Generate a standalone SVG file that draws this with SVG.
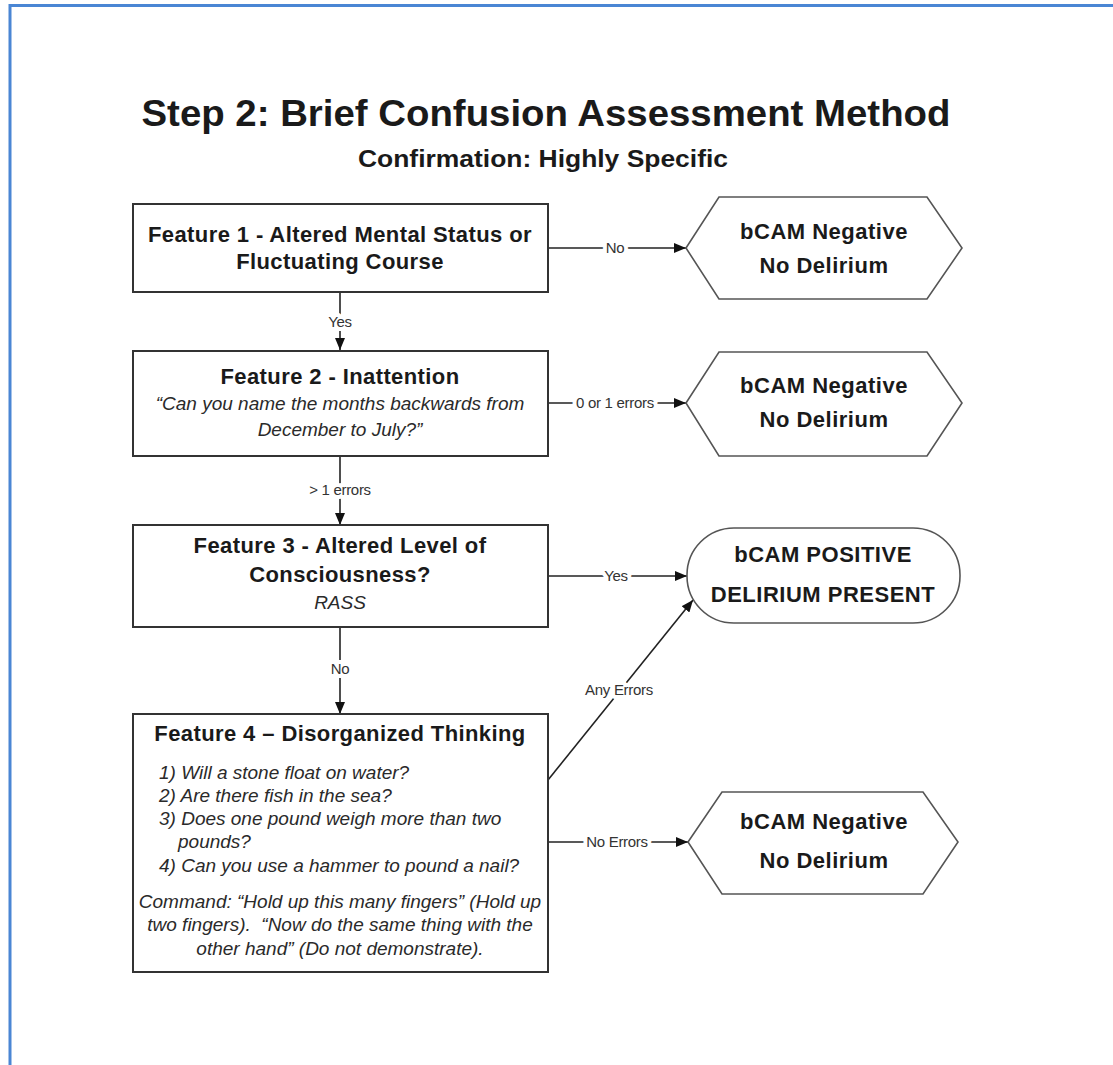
<svg xmlns="http://www.w3.org/2000/svg" width="1113" height="1065" viewBox="0 0 1113 1065">
<defs>
<style>
.frame{fill:none;stroke:#4a86d4;stroke-width:3}
.box{fill:#fff;stroke:#333;stroke-width:2}
.term{fill:#fff;stroke:#555;stroke-width:1.6}
.t{font-family:"Liberation Sans",Arial,sans-serif;fill:#1a1a1a;text-anchor:middle}
.b{font-weight:bold;font-size:22px;letter-spacing:0.4px}
.bo{font-weight:bold;font-size:22px;letter-spacing:0.5px}
.i{font-style:italic;font-size:19px;fill:#2a2a2a}
.il{font-family:"Liberation Sans",Arial,sans-serif;font-style:italic;font-size:19px;fill:#2a2a2a}
.ln{fill:none;stroke:#222;stroke-width:1.6}
.lab{font-family:"Liberation Sans",Arial,sans-serif;font-size:15px;fill:#333;text-anchor:middle;stroke:#fff;stroke-width:8px;stroke-linejoin:round;paint-order:stroke;letter-spacing:-0.3px}
</style>
<marker id="ah" viewBox="0 0 12 10" refX="12" refY="5" markerWidth="12" markerHeight="10" markerUnits="userSpaceOnUse" orient="auto">
<path d="M0,0 L12,5 L0,10 Z" fill="#111"/>
</marker>
</defs>
<rect x="0" y="0" width="1113" height="1065" fill="#fff"/>
<path class="frame" d="M10,1065 V5.5 H1113"/>

<g id="title">
<text class="t" x="546" y="126" font-size="37" font-weight="bold" textLength="809" lengthAdjust="spacingAndGlyphs">Step 2: Brief Confusion Assessment Method</text>
<text class="t" x="543" y="167" font-size="24" font-weight="bold" textLength="370" lengthAdjust="spacingAndGlyphs">Confirmation: Highly Specific</text>
</g>

<g id="connectors">
<line class="ln" x1="548" y1="248" x2="686" y2="248" marker-end="url(#ah)"/>
<text class="lab" x="615" y="253">No</text>
<line class="ln" x1="340" y1="292" x2="340" y2="350" marker-end="url(#ah)"/>
<text class="lab" x="340" y="327">Yes</text>
<line class="ln" x1="548" y1="403" x2="686" y2="403" marker-end="url(#ah)"/>
<text class="lab" x="615" y="408">0 or 1 errors</text>
<line class="ln" x1="340" y1="456" x2="340" y2="525" marker-end="url(#ah)"/>
<text class="lab" x="340" y="495">&gt; 1 errors</text>
<line class="ln" x1="548" y1="576" x2="687" y2="576" marker-end="url(#ah)"/>
<text class="lab" x="616" y="581">Yes</text>
<line class="ln" x1="340" y1="627" x2="340" y2="714" marker-end="url(#ah)"/>
<text class="lab" x="340" y="674">No</text>
<line class="ln" x1="548" y1="780" x2="693" y2="600" marker-end="url(#ah)"/>
<text class="lab" x="619" y="695">Any Errors</text>
<line class="ln" x1="548" y1="842" x2="688" y2="842" marker-end="url(#ah)"/>
<text class="lab" x="617" y="847">No Errors</text>
</g>

<g id="feature1">
<rect class="box" x="133" y="204" width="415" height="88"/>
<text class="t b" x="340" y="242">Feature 1 - Altered Mental Status or</text>
<text class="t b" x="340" y="269">Fluctuating Course</text>
</g>

<g id="feature2">
<rect class="box" x="133" y="351" width="415" height="105"/>
<text class="t b" x="340" y="384">Feature 2 - Inattention</text>
<text class="t i" x="340" y="410">“Can you name the months backwards from</text>
<text class="t i" x="340" y="436">December to July?”</text>
</g>

<g id="feature3">
<rect class="box" x="133" y="525" width="415" height="102"/>
<text class="t b" x="340" y="553">Feature 3 - Altered Level of</text>
<text class="t b" x="340" y="582">Consciousness?</text>
<text class="t i" x="340" y="609">RASS</text>
</g>

<g id="feature4">
<rect class="box" x="133" y="714" width="415" height="258"/>
<text class="t b" x="340" y="741">Feature 4 – Disorganized Thinking</text>
<text class="il" x="159" y="779">1) Will a stone float on water?</text>
<text class="il" x="159" y="802">2) Are there fish in the sea?</text>
<text class="il" x="159" y="825">3) Does one pound weigh more than two</text>
<text class="il" x="178" y="848">pounds?</text>
<text class="il" x="159" y="872">4) Can you use a hammer to pound a nail?</text>
<text class="t i" x="340" y="908">Command: “Hold up this many fingers” (Hold up</text>
<text class="t i" x="340" y="931">two fingers).&#160; “Now do the same thing with the</text>
<text class="t i" x="340" y="955">other hand” (Do not demonstrate).</text>
</g>

<g id="negative1">
<polygon class="term" points="686,248 719,197 927,197 962,248 927,299 719,299"/>
<text class="t bo" x="824" y="239">bCAM Negative</text>
<text class="t bo" x="824" y="273">No Delirium</text>
</g>

<g id="negative2">
<polygon class="term" points="686,403 719,352 927,352 962,403 927,456 719,456"/>
<text class="t bo" x="824" y="393">bCAM Negative</text>
<text class="t bo" x="824" y="427">No Delirium</text>
</g>

<g id="positive">
<rect class="term" x="687" y="528" width="273" height="95" rx="47" ry="47"/>
<text class="t bo" x="823" y="562">bCAM POSITIVE</text>
<text class="t bo" x="823" y="602">DELIRIUM PRESENT</text>
</g>

<g id="negative3">
<polygon class="term" points="688,842 722,792 923,792 958,842 923,894 722,894"/>
<text class="t bo" x="824" y="829">bCAM Negative</text>
<text class="t bo" x="824" y="868">No Delirium</text>
</g>
</svg>
